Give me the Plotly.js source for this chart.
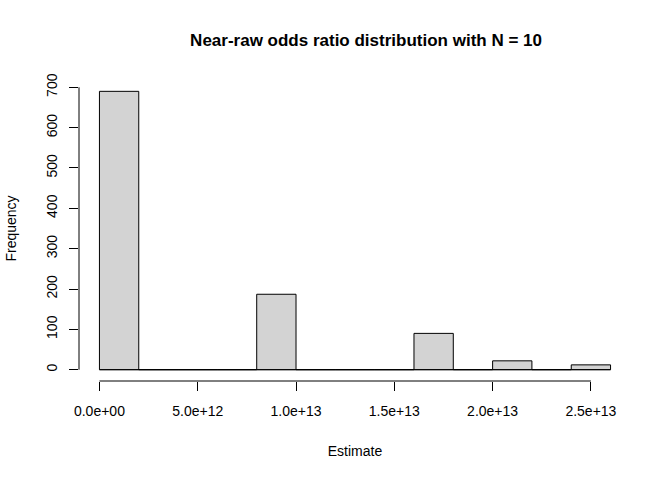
<!DOCTYPE html>
<html>
<head>
<script src="https://cdn.plot.ly/plotly-3.0.1.min.js"></script>
<style>body{margin:0}</style>
</head>
<body>
<div id="chart" style="width:672px;height:480px"></div>
<script>
// histogram bins (left edges), width 2e12
let binStart = [0, 2e12, 4e12, 6e12, 8e12, 1.0e13, 1.2e13, 1.4e13, 1.6e13, 1.8e13, 2.0e13, 2.2e13, 2.4e13]
let counts   = [690, 0, 0, 0, 187, 0, 0, 0, 90, 0, 22, 0, 12]
let binWidth = 2e12

let xTicks = [0, 5e12, 1e13, 1.5e13, 2e13, 2.5e13]
let xTickText = ['0.0e+00', '5.0e+12', '1.0e+13', '1.5e+13', '2.0e+13', '2.5e+13']
let yTicks = [0, 100, 200, 300, 400, 500, 600, 700]

let centers = binStart.map(b => b + binWidth / 2)
let lastEdge = binStart[binStart.length - 1] + binWidth

var bars = {
    type: 'bar',
    x: centers,
    y: counts,
    width: binWidth,
    marker: {color: '#d3d3d3', line: {color: '#000', width: 1}},
    hoverinfo: 'x+y'
};

// baseline where empty bins sit
var base = {
    type: 'scatter',
    mode: 'lines',
    x: [binStart[0], lastEdge],
    y: [0, 0],
    line: {color: '#000', width: 1},
    hoverinfo: 'skip'
};

var font = {family: 'Liberation Sans, Arial, sans-serif', size: 14, color: '#000'};

var layout = {
    width: 672, height: 480,
    margin: {l: 78.5, r: 40.5, t: 75.7, b: 99},
    paper_bgcolor: '#fff', plot_bgcolor: '#fff',
    showlegend: false,
    font: font,
    title: {
        text: '<b>Near-raw odds ratio distribution with N = 10</b>',
        font: {family: 'Liberation Sans, Arial, sans-serif', size: 17, color: '#000'},
        x: 0.52, xref: 'paper', y: 0.917, yanchor: 'middle'
    },
    xaxis: {
        range: [-0.04 * lastEdge, 1.04 * lastEdge],
        tickvals: xTicks, ticktext: xTickText,
        ticks: 'outside', ticklen: 9, tickcolor: '#000', tickwidth: 1,
        showgrid: false, zeroline: false, showline: false,
        ticklabelstandoff: 8,
        tickfont: font,
        title: {text: 'Estimate', font: font, standoff: 28}
    },
    yaxis: {
        range: [-28, 728],
        tickvals: yTicks,
        tickangle: -90,
        ticks: 'outside', ticklen: 9, tickcolor: '#000', tickwidth: 1,
        showgrid: false, zeroline: false, showline: false,
        ticklabelstandoff: 6,
        tickfont: font,
        title: {text: 'Frequency', font: font, standoff: 24}
    },
    shapes: [
        {type: 'line', xref: 'x', yref: 'paper', x0: xTicks[0], x1: xTicks[xTicks.length - 1], y0: 0, y1: 0, line: {color: '#000', width: 1}},
        {type: 'line', xref: 'paper', yref: 'y', x0: 0, x1: 0, y0: yTicks[0], y1: yTicks[yTicks.length - 1], line: {color: '#000', width: 1}}
    ]
};

Plotly.newPlot('chart', [base, bars], layout, {displayModeBar: false});
</script>
</body>
</html>
